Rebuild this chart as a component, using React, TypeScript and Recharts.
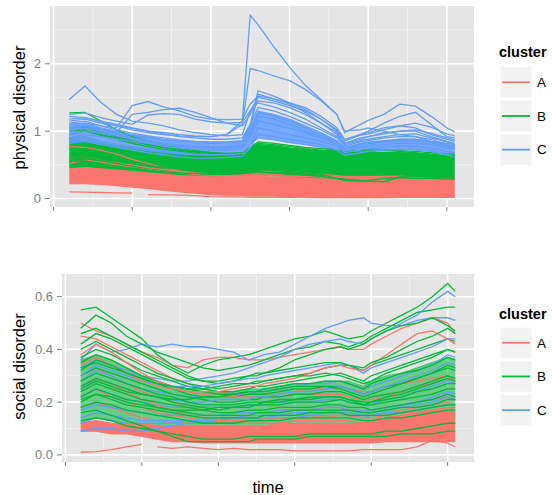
import React from 'react';
import { ComposedChart, Line, Area, XAxis, YAxis, CartesianGrid } from 'recharts';

// time index of each sampled observation
const TIME = [2, 4, 6, 8, 10, 12, 14, 16, 18, 20, 22, 24, 25, 26, 28, 30, 32, 34, 36, 37, 39, 40, 42, 44, 46, 48, 50, 51];

const CLUSTERS = ['A', 'B', 'C'];
const COLORS = ['#F8766D', '#00BA38', '#619CFF'];

const X_TICKS = [0, 10, 20, 30, 40, 50];
const X_MINOR = [5, 15, 25, 35, 45];
const PHYS_TICKS = [0, 1, 2];
const PHYS_MINOR = [0.5, 1.5, 2.5];
const SOC_TICKS = [0, 0.2, 0.4, 0.6];
const SOC_MINOR = [0.1, 0.3, 0.5];

// physical disorder: dense bands [low, high] per cluster
const physBandA = [
  [.22, .22, .21, .19, .17, .15, .12, .10, .08, .06, .05, .05, .04, .04, .04, .03, .03, .03, .03, .02, .02, .02, .02, .02, .02, .02, .02, .02],
  [.46, .48, .45, .43, .41, .39, .37, .35, .34, .33, .32, .32, .33, .33, .32, .31, .31, .30, .30, .30, .31, .31, .31, .31, .30, .30, .29, .29],
];
const physBandB = [
  [.46, .48, .46, .44, .42, .40, .38, .36, .35, .34, .34, .34, .35, .35, .34, .33, .32, .31, .31, .31, .32, .32, .32, .32, .31, .31, .30, .30],
  [.90, .92, .85, .80, .76, .73, .70, .67, .65, .64, .63, .64, .72, .80, .78, .75, .73, .71, .70, .70, .68, .68, .68, .67, .66, .65, .64, .64],
];
const physBandC = [
  [.85, .86, .82, .78, .74, .71, .68, .66, .65, .64, .64, .66, .80, .90, .87, .83, .80, .76, .70, .66, .70, .71, .72, .73, .73, .71, .67, .66],
  [1.10, 1.12, 1.05, 1.00, .95, .92, .88, .86, .84, .83, .83, .85, 1.05, 1.30, 1.25, 1.18, 1.08, .98, .86, .76, .82, .84, .86, .88, .88, .85, .80, .78],
];

// physical disorder: individual trajectories
const physA = [
  [.10, .095, .09, .085, .08, null, null, null, null, null, null, null, null, null, null, null, null, null, null, null, null, null, null, null, null, null, null, null],
  [null, null, null, null, null, .06, .055, .05, .045, .03, .025, .025, .02, .02, .02, .02, .02, .015, .015, .015, .015, .015, .015, .02, .02, .02, .02, .02],
  [.77, .76, .72, .66, .58, .52, .46, .41, .38, .36, .35, .35, .36, .37, .36, .35, .34, .33, .33, .32, .32, .32, .32, .32, .31, .30, .30, .30],
  [.60, .62, .58, .54, .50, .46, .43, .40, .37, .35, .34, .34, .36, .40, .41, .40, .38, .36, .34, .33, .33, .33, .33, .33, .32, .31, .30, .30],
  [.52, .57, .54, .50, .46, .43, .40, .38, .36, .34, .33, .33, .34, .35, .34, .33, .33, .32, .32, .31, .32, .32, .33, .33, .32, .31, .30, .29],
];
const physB = [
  [1.27, 1.28, 1.15, 1.02, .92, .86, .80, .75, .71, .68, .66, .67, .73, .80, .78, .75, .72, .70, .68, .66, .67, .68, .68, .67, .66, .64, .62, .62],
  [1.05, 1.06, .98, .92, .86, .80, .76, .72, .69, .67, .66, .67, .74, .82, .80, .77, .74, .72, .70, .68, .69, .70, .71, .70, .68, .66, .63, .63],
  [.95, 1.00, .94, .88, .82, .77, .73, .70, .67, .65, .64, .65, .70, .78, .76, .73, .70, .68, .66, .65, .66, .67, .68, .68, .67, .65, .62, .61],
  [.55, .56, .52, .48, .45, .42, .40, .38, .37, .36, .36, .37, .38, .40, .38, .36, .35, .33, .30, .27, .26, .27, .30, .31, .30, .30, .29, .29],
  [.60, .62, .58, .55, .52, .49, .46, .44, .42, .40, .39, .40, .42, .44, .42, .40, .38, .36, .30, .29, .27, .26, .25, .32, .33, .32, .31, .30],
  [1.00, 1.02, .95, .90, .85, .80, .76, .73, .70, .68, .67, .68, .76, .84, .82, .79, .76, .74, .72, .70, .71, .72, .72, .71, .70, .68, .66, .66],
];
const physC = [
  [1.22, 1.20, 1.15, 1.10, 1.05, 1.00, .98, .95, .93, .92, .95, 1.15, 2.72, 2.58, 2.25, 1.95, 1.68, 1.47, 1.25, 1.00, 1.02, 1.05, 1.00, .95, .92, .85, .82, .80],
  [1.15, 1.18, 1.12, 1.08, 1.02, .98, .95, .93, .92, .92, .95, 1.10, 1.93, 1.90, 1.82, 1.75, 1.62, 1.45, 1.25, .98, 1.10, 1.16, 1.25, 1.40, 1.37, 1.22, 1.05, .99],
  [1.47, 1.67, 1.43, 1.25, 1.15, 1.12, 1.08, 1.02, .98, .95, .93, .95, 1.30, 1.50, 1.45, 1.38, 1.30, 1.18, 1.02, .85, .95, 1.00, 1.12, 1.22, 1.28, 1.10, .92, .90],
  [1.10, 1.12, 1.08, 1.05, 1.38, 1.44, 1.36, 1.30, 1.22, 1.18, 1.17, 1.18, 1.40, 1.52, 1.48, 1.42, 1.35, 1.22, 1.05, .88, .95, .98, 1.05, 1.08, 1.05, .95, .88, .85],
  [1.05, 1.08, 1.02, .98, 1.25, 1.28, 1.32, 1.34, 1.28, 1.20, 1.12, 1.08, 1.25, 1.45, 1.42, 1.35, 1.25, 1.12, .98, .82, .88, .92, .98, 1.00, 1.00, .92, .85, .82],
  [1.25, 1.27, 1.20, 1.15, 1.10, 1.24, 1.26, 1.25, 1.18, 1.14, 1.12, 1.13, 1.30, 1.42, 1.36, 1.28, 1.18, 1.05, .92, .80, .86, .88, .92, .95, .96, .90, .84, .80],
  [1.18, 1.20, 1.14, 1.08, 1.04, 1.00, .96, .92, .90, .88, .88, .90, 1.10, 1.35, 1.30, 1.22, 1.12, 1.02, .90, .78, .84, .86, .90, .92, .92, .88, .80, .78],
  [1.00, 1.05, 1.00, .95, .90, .86, .82, .80, .78, .77, .77, .80, 1.00, 1.28, 1.22, 1.15, 1.05, .95, .85, .72, .80, .82, .85, .88, .88, .84, .78, .76],
  [.90, .95, .92, .88, .85, .82, .78, .75, .73, .72, .72, .74, .90, 1.15, 1.10, 1.04, .97, .90, .80, .70, .76, .78, .80, .82, .82, .80, .75, .74],
  [1.12, 1.15, 1.08, 1.02, .97, .93, .90, .87, .85, .84, .84, .86, 1.05, 1.55, 1.48, 1.40, 1.28, 1.12, .95, .82, .90, .92, .96, 1.00, 1.02, .97, .90, .87],
  [.85, .88, .84, .80, .77, .74, .71, .68, .66, .65, .65, .67, .80, 1.05, 1.00, .95, .90, .85, .78, .68, .72, .74, .76, .78, .78, .75, .70, .68],
  [.82, .85, .80, .76, .72, .68, .65, .62, .60, .60, .61, .63, .75, .95, .92, .88, .84, .80, .72, .64, .68, .70, .72, .73, .72, .70, .65, .62],
  [1.02, 1.08, 1.03, .98, .94, .90, .87, .85, .83, .82, .83, .85, 1.10, 1.60, 1.52, 1.42, 1.32, 1.18, 1.00, .86, .94, .96, 1.02, 1.08, 1.12, 1.06, .96, .93],
  [.95, 1.00, .97, .93, .88, .84, .80, .78, .76, .75, .75, .77, .95, 1.22, 1.18, 1.10, 1.00, .92, .84, .75, .80, .82, .84, .86, .86, .83, .78, .76],
];

// social disorder: dense bands [low, high]
const socBandA = [
  [.09, .09, .08, .08, .07, .06, .05, .05, .045, .045, .045, .045, .045, .045, .045, .045, .045, .045, .045, .045, .045, .045, .05, .05, .05, .05, .05, .05],
  [.12, .13, .12, .12, .12, .11, .11, .11, .11, .11, .11, .11, .11, .11, .12, .12, .12, .12, .12, .12, .12, .13, .14, .15, .16, .17, .17, .16],
];
const socBandB = [
  [.12, .14, .13, .12, .11, .11, .10, .10, .10, .10, .10, .10, .10, .10, .11, .11, .11, .11, .11, .11, .11, .11, .12, .12, .13, .13, .14, .14],
  [.36, .38, .36, .33, .30, .28, .26, .25, .24, .24, .24, .25, .25, .25, .26, .27, .27, .28, .28, .28, .26, .28, .30, .31, .33, .35, .37, .36],
];

// social disorder: individual trajectories
const socA = [
  [.50, .47, .45, .42, .39, .37, .34, .33, .36, .37, .37, .36, .36, .36, .37, .38, .39, .40, .41, .40, .40, .42, .45, .48, .50, .52, .50, .46],
  [.45, .44, .41, .38, .35, .32, .29, .27, .25, .24, .23, .23, .23, .23, .24, .24, .25, .25, .26, .25, .24, .24, .26, .27, .28, .29, .30, .28],
  [.30, .33, .30, .27, .24, .22, .20, .18, .17, .16, .16, .16, .16, .16, .17, .17, .17, .18, .18, .17, .17, .17, .18, .19, .20, .21, .22, .21],
  [.22, .25, .22, .20, .18, .16, .15, .14, .13, .13, .13, .13, .13, .13, .14, .14, .14, .14, .15, .15, .14, .15, .16, .17, .18, .19, .20, .19],
  [.18, .20, .18, .16, .14, .13, .12, .12, .12, .12, .12, .12, .12, .12, .12, .13, .13, .13, .13, .13, .12, .13, .14, .15, .16, .17, .18, .17],
  [.01, .012, .02, .03, .04, null, null, null, null, null, null, null, null, null, null, null, null, null, null, null, null, null, null, null, null, null, null, null],
  [null, null, null, null, null, .03, .025, .03, .025, .02, .025, .02, .02, .02, .02, .015, .015, .015, .015, .015, .02, .02, .02, .02, .03, .055, .045, .03],
  [.38, .42, .39, .35, .31, .28, .26, .24, .23, .22, .22, .22, .22, .22, .22, .23, .23, .23, .23, .22, .21, .21, .22, .24, .26, .27, .29, .28],
  [.26, .29, .27, .24, .21, .19, .17, .15, .14, .13, .13, .13, .13, .14, .14, .14, .14, .15, .15, .15, .14, .14, .15, .16, .16, .17, .18, .18],
  [.34, .37, .34, .31, .28, .26, .25, .24, .24, .24, .25, .26, .26, .27, .28, .29, .31, .33, .34, .33, .32, .34, .38, .42, .46, .47, .44, .42],
];
const socB = [
  [.55, .56, .52, .48, .44, .38, .34, .31, .34, .36, .37, .38, .39, .40, .42, .44, .45, .47, .45, .44, .45, .47, .50, .53, .56, .60, .65, .62],
  [.48, .53, .50, .45, .42, .39, .37, .35, .33, .32, .33, .34, .35, .36, .38, .40, .41, .43, .42, .41, .43, .45, .48, .51, .54, .55, .56, .56],
  [.46, .48, .45, .42, .39, .36, .33, .30, .28, .27, .28, .30, .30, .31, .33, .36, .38, .40, .41, .40, .42, .44, .47, .49, .50, .52, .49, .47],
  [.40, .43, .40, .37, .34, .31, .29, .27, .26, .25, .26, .27, .27, .28, .29, .30, .31, .33, .34, .34, .32, .34, .36, .38, .40, .42, .44, .43],
  [.37, .40, .38, .35, .32, .30, .28, .26, .25, .24, .24, .25, .26, .26, .27, .28, .29, .30, .31, .30, .28, .30, .32, .34, .36, .38, .40, .39],
  [.35, .38, .36, .33, .30, .28, .26, .25, .24, .23, .23, .24, .24, .25, .26, .27, .27, .28, .28, .27, .25, .27, .29, .31, .32, .34, .37, .36],
  [.33, .35, .33, .31, .29, .27, .25, .23, .22, .22, .22, .23, .23, .23, .24, .25, .25, .26, .26, .25, .23, .24, .26, .27, .29, .31, .33, .32],
  [.30, .33, .31, .29, .27, .25, .23, .22, .21, .20, .20, .21, .21, .22, .22, .23, .23, .24, .24, .23, .21, .22, .23, .24, .26, .28, .30, .29],
  [.28, .31, .29, .27, .25, .23, .22, .20, .19, .19, .19, .20, .20, .20, .21, .21, .22, .22, .22, .21, .19, .20, .21, .22, .24, .25, .27, .27],
  [.26, .29, .27, .25, .23, .22, .20, .19, .18, .17, .18, .18, .19, .19, .19, .20, .20, .20, .21, .20, .19, .19, .20, .21, .22, .23, .25, .25],
  [.24, .27, .25, .23, .21, .20, .19, .18, .17, .16, .16, .17, .17, .17, .18, .18, .18, .19, .19, .18, .18, .17, .18, .19, .20, .21, .23, .22],
  [.22, .25, .23, .21, .20, .18, .17, .16, .15, .15, .15, .15, .16, .16, .16, .17, .17, .17, .17, .17, .16, .16, .17, .18, .18, .19, .21, .21],
  [.20, .23, .21, .19, .18, .17, .16, .15, .14, .14, .14, .14, .14, .15, .15, .15, .16, .16, .16, .15, .15, .15, .15, .16, .17, .18, .19, .19],
  [.18, .20, .19, .17, .16, .15, .14, .13, .12, .12, .12, .13, .13, .13, .13, .14, .14, .14, .14, .14, .13, .13, .14, .14, .15, .16, .17, .17],
  [.16, .17, .15, .13, .11, .09, .07, .05, .05, .05, .05, .05, .06, .06, .06, .06, .07, .07, .07, .07, .07, .07, .07, .08, .08, .08, .09, .09],
  [.13, .14, .13, .11, .10, .09, .08, .07, .06, .06, .06, .07, .07, .07, .07, .07, .08, .08, .08, .08, .08, .08, .09, .09, .10, .11, .12, .12],
  [.32, .36, .34, .31, .29, .27, .26, .25, .25, .26, .27, .27, .28, .28, .29, .30, .30, .31, .30, .29, .27, .28, .31, .33, .35, .37, .40, .39],
  [.25, .28, .26, .24, .23, .22, .21, .21, .22, .22, .23, .24, .24, .24, .25, .26, .26, .26, .25, .24, .22, .23, .25, .27, .29, .31, .34, .33],
  [.42, .46, .44, .41, .38, .35, .32, .29, .28, .28, .29, .30, .31, .31, .32, .33, .34, .35, .35, .34, .33, .35, .37, .40, .43, .45, .48, .46],
  [.21, .23, .22, .20, .19, .18, .17, .17, .17, .18, .18, .19, .19, .20, .20, .21, .21, .22, .22, .21, .20, .20, .22, .23, .25, .27, .29, .28],
];
const socC = [
  [.36, .42, .39, .40, .42, .41, .42, .41, .41, .40, .39, .36, .37, .38, .39, .42, .45, .48, .50, .51, .52, .50, .49, .49, .51, .52, .52, .51],
  [.33, .36, .34, .32, .30, .29, .28, .28, .29, .30, .31, .33, .34, .35, .37, .40, .42, .43, .44, .43, .42, .44, .47, .50, .53, .58, .62, .60],
  [.28, .32, .30, .27, .25, .24, .23, .22, .22, .22, .23, .23, .24, .24, .25, .26, .27, .27, .28, .27, .25, .26, .28, .30, .32, .34, .38, .37],
  [.22, .25, .23, .21, .20, .19, .18, .18, .18, .18, .18, .19, .19, .19, .20, .20, .20, .21, .21, .20, .19, .19, .21, .22, .24, .26, .28, .27],
  [.17, .19, .18, .17, .16, .15, .15, .15, .15, .15, .16, .16, .16, .16, .17, .17, .17, .18, .18, .17, .17, .17, .18, .19, .20, .22, .24, .23],
  [.09, .10, .10, .09, .09, .10, .11, .12, .12, .13, .13, .13, .13, .14, .14, .14, .15, .15, .15, .15, .14, .15, .16, .16, .17, .18, .19, .19],
  [.12, .14, .13, .12, .12, .12, .12, .13, .13, .13, .14, .14, .14, .14, .15, .15, .15, .16, .16, .16, .15, .16, .17, .18, .19, .20, .22, .21],
  [.25, .29, .27, .25, .23, .22, .21, .20, .20, .21, .21, .21, .22, .22, .23, .24, .24, .25, .26, .25, .23, .24, .26, .28, .30, .32, .35, .34],
  [.30, .34, .32, .30, .28, .27, .26, .26, .26, .27, .28, .29, .29, .30, .31, .32, .33, .34, .35, .34, .31, .33, .35, .37, .39, .41, .44, .44],
  [.14, .16, .15, .14, .13, .13, .13, .13, .13, .14, .14, .15, .15, .15, .15, .16, .16, .16, .17, .17, .16, .17, .18, .19, .20, .21, .23, .22],
];

const FONT = '"Liberation Sans", Arial, Helvetica, sans-serif';
const GREY = '#7F7F7F';

type Band = { c: number; vals: number[][]; opacity: number };

type PanelProps = {
  top: number;
  height: number;
  yWidth: number;
  yDomain: [number, number];
  yTicks: number[];
  yMinor: number[];
  yFormat: (v: number) => string;
  bands: Band[];
  groups: (number | null)[][][];
  interleave: boolean;
};

function Panel(p: PanelProps) {
  const rows = TIME.map((t, k) => {
    const row: Record<string, unknown> = { t };
    p.bands.forEach((b, n) => {
      row[`band${n}`] = [b.vals[0][k], b.vals[1][k]];
    });
    p.groups.forEach((lines, c) =>
      lines.forEach((vals, j) => {
        row[`s${c}_${j}`] = vals[k];
      })
    );
    return row;
  });

  // drawing order of the trajectories
  const order: [number, number][] = [];
  if (p.interleave) {
    const maxLen = Math.max(...p.groups.map(g => g.length));
    for (let j = 0; j < maxLen; j++) {
      p.groups.forEach((g, c) => {
        if (j < g.length) order.push([c, j]);
      });
    }
  } else {
    p.groups.forEach((g, c) => g.forEach((_, j) => order.push([c, j])));
  }

  return (
    <div style={{ position: 'absolute', left: 0, top: p.top }}>
      <ComposedChart
        width={480}
        height={p.height}
        data={rows}
        margin={{ top: 6, right: 6, bottom: 0, left: 0 }}
      >
        <CartesianGrid
          fill="#E5E5E5"
          stroke="#F2F2F2"
          strokeWidth={0.9}
          horizontalValues={p.yMinor}
          verticalValues={X_MINOR}
        />
        <CartesianGrid
          stroke="#FFFFFF"
          strokeWidth={1.6}
          horizontalValues={p.yTicks}
          verticalValues={X_TICKS}
        />
        <XAxis
          type="number"
          dataKey="t"
          domain={[-0.45, 53.45]}
          ticks={X_TICKS}
          tickFormatter={() => ''}
          allowDataOverflow
          axisLine={false}
          tickLine={{ stroke: GREY }}
          tickSize={4}
          height={18}
        />
        <YAxis
          type="number"
          domain={p.yDomain}
          ticks={p.yTicks}
          allowDataOverflow
          axisLine={false}
          tickLine={{ stroke: GREY }}
          tickSize={5}
          tickMargin={4}
          width={p.yWidth}
          tickFormatter={p.yFormat}
          tick={{ fill: GREY, fontSize: 13, fontFamily: FONT }}
        />
        {p.bands.map((b, n) => (
          <Area
            key={`band${n}`}
            type="linear"
            dataKey={`band${n}`}
            stroke={COLORS[b.c]}
            strokeWidth={1.2}
            fill={COLORS[b.c]}
            fillOpacity={b.opacity}
            strokeOpacity={b.opacity}
            dot={false}
            activeDot={false}
            isAnimationActive={false}
          />
        ))}
        {order.map(([c, j]) => (
          <Line
            key={`s${c}_${j}`}
            type="linear"
            dataKey={`s${c}_${j}`}
            stroke={COLORS[c]}
            strokeWidth={1.3}
            dot={false}
            activeDot={false}
            connectNulls={false}
            isAnimationActive={false}
          />
        ))}
      </ComposedChart>
    </div>
  );
}

function LegendBox({ titleY, keyTop }: { titleY: number; keyTop: number }) {
  return (
    <g>
      <text x={499} y={titleY} fontFamily={FONT} fontSize={14.5} fontWeight="bold" fill="#000">
        cluster
      </text>
      {CLUSTERS.map((name, c) => {
        const y = keyTop + c * 33.7;
        return (
          <g key={name}>
            <rect x={500} y={y} width={32} height={31.5} fill="#F2F2F2" stroke="#FFFFFF" strokeWidth={1} />
            <line x1={502} x2={530} y1={y + 15.75} y2={y + 15.75} stroke={COLORS[c]} strokeWidth={1.8} />
            <text x={537} y={y + 20.5} fontFamily={FONT} fontSize={13.5} fill="#000">
              {name}
            </text>
          </g>
        );
      })}
    </g>
  );
}

export default function App() {
  return (
    <div style={{ position: 'absolute', left: 0, top: 0, width: 552, height: 495, background: '#FFFFFF', fontFamily: FONT }}>
      <Panel
        top={0}
        height={225}
        yWidth={50}
        yDomain={[-0.125, 2.857]}
        yTicks={PHYS_TICKS}
        yMinor={PHYS_MINOR}
        yFormat={v => String(v)}
        bands={[
          { c: 0, vals: physBandA, opacity: 1 },
          { c: 1, vals: physBandB, opacity: 1 },
          { c: 2, vals: physBandC, opacity: 0.85 },
        ]}
        groups={[physA, physB, physC]}
        interleave={false}
      />
      <Panel
        top={268}
        height={212}
        yWidth={62}
        yDomain={[-0.027, 0.686]}
        yTicks={SOC_TICKS}
        yMinor={SOC_MINOR}
        yFormat={v => v.toFixed(1)}
        bands={[
          { c: 1, vals: socBandB, opacity: 0.55 },
          { c: 0, vals: socBandA, opacity: 1 },
        ]}
        groups={[socA, socB, socC]}
        interleave={true}
      />
      <svg width={552} height={495} style={{ position: 'absolute', left: 0, top: 0, pointerEvents: 'none' }}>
        <text transform="translate(25,107.5) rotate(-90)" textAnchor="middle" fontFamily={FONT} fontSize={16.5} fill="#000">
          physical disorder
        </text>
        <text transform="translate(25,366.5) rotate(-90)" textAnchor="middle" fontFamily={FONT} fontSize={16.5} fill="#000">
          social disorder
        </text>
        <text x={268} y={493} textAnchor="middle" fontFamily={FONT} fontSize={16.5} fill="#000">
          time
        </text>
        <LegendBox titleY={57} keyTop={66.5} />
        <LegendBox titleY={319} keyTop={327} />
      </svg>
    </div>
  );
}
